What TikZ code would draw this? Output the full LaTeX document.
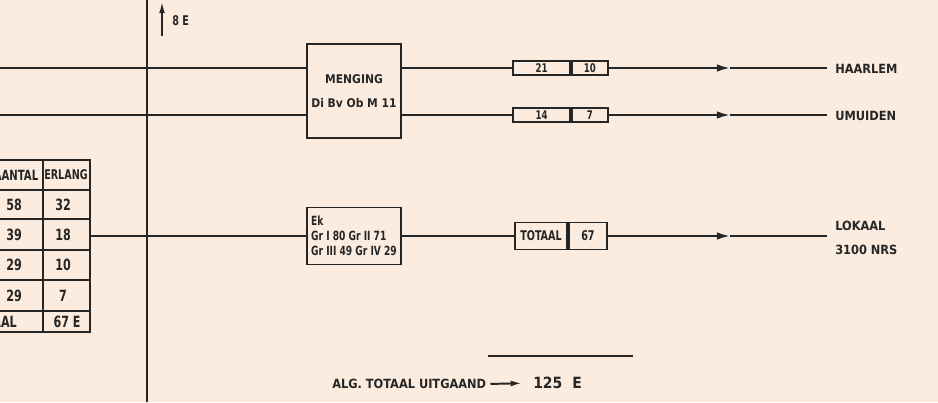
\documentclass[tikz,border=0pt]{standalone}
\usepackage{fontspec}
\setmainfont{DejaVu Sans Condensed}
\newfontfamily\narrowfont{DejaVu Sans Condensed}[FakeStretch=0.8]
\usetikzlibrary{arrows.meta}

\begin{document}
\begin{tikzpicture}[
  x=0.25mm,y=-0.25mm,
  wire/.style={draw=inkCol,line width=1.4pt},
  flow/.style={wire,-{Latex[length=3.3mm,width=1.9mm]}},
  blockbox/.style={rectangle,draw=inkCol,line width=1.4pt,inner sep=0pt,
                   font=\bfseries\fontsize{8.5}{10}\selectfont,text=inkCol,align=center},
  slotbox/.style={rectangle,draw=inkCol,line width=1.4pt,inner sep=0pt,
                  font=\narrowfont\bfseries\fontsize{8.5}{10}\selectfont,text=inkCol},
  tabline/.style={draw=inkCol,line width=1.4pt},
  lbl/.style={font=\bfseries\small,text=inkCol,inner sep=0pt},
  cell/.style={font=\narrowfont\bfseries\fontsize{11}{12}\selectfont,text=inkCol,inner sep=0pt},
]
\definecolor{inkCol}{HTML}{262626}
\definecolor{paperCol}{HTML}{FBECDF}

\useasboundingbox (0,0) rectangle (938,402);
\fill[paperCol] (0,0) rectangle (938,402);
\clip (0,0) rectangle (938,402);

% main vertical bus with the incoming 8 E
\coordinate (vTop) at (147,0);
\coordinate (vBot) at (147,402);
\draw[wire] (vTop)--(vBot);
\coordinate (inTail) at (162,36);
\coordinate (inTip) at (162,1);
\draw[wire,-{Latex[length=3mm,width=1.4mm]}] (inTail)--(inTip);
\node[lbl,font=\narrowfont\bfseries\fontsize{9.5}{10}\selectfont,anchor=west] (inLbl)
  at (172,21) {8 E};

% mixed bundle towards Haarlem and IJmuiden
\node[blockbox,minimum width=23.5mm,minimum height=23.5mm] (mengBox) at (354,91)
  {MENGING\\[2.5mm]Di Bv Ob M 11};
\coordinate (inH) at (0,68);
\coordinate (inU) at (0,115);

\node[slotbox,minimum width=14.25mm,minimum height=3.4mm] (slotHa) at (541.5,68) {21};
\node[slotbox,minimum width=9mm,minimum height=3.4mm,anchor=west] (slotHb)
  at (slotHa.east) {10};
\node[slotbox,minimum width=14.25mm,minimum height=3.7mm] (slotUa) at (541.5,115) {14};
\node[slotbox,minimum width=9mm,minimum height=3.7mm,anchor=west] (slotUb)
  at (slotUa.east) {7};

\coordinate (tipH) at (730,68);
\coordinate (endH) at (827,68);
\coordinate (tipU) at (730,115);
\coordinate (endU) at (827,115);
\node[lbl,anchor=west] (haarlem) at (835,69) {HAARLEM};
\node[lbl,anchor=west] (umuiden) at (835,116) {UMUIDEN};

\draw[wire] (inH)--(mengBox.west|-inH) (mengBox.east|-slotHa)--(slotHa.west);
\draw[wire] (inU)--(mengBox.west|-inU) (mengBox.east|-slotUa)--(slotUa.west);
\draw[flow] (slotHb.east)--(tipH);
\draw[wire] (tipH)--(endH);
\draw[flow] (slotUb.east)--(tipU);
\draw[wire] (tipU)--(endU);

% local exchange line
\node[blockbox,minimum width=23.5mm,minimum height=14.25mm,align=left,
  font=\narrowfont\bfseries\fontsize{9}{10.5}\selectfont] (ekBox)
  at (354,236) {Ek\\Gr I 80 Gr II 71\\Gr III 49 Gr IV 29};
\node[slotbox,minimum width=13mm,minimum height=6.75mm,
  font=\narrowfont\bfseries\fontsize{9.5}{10}\selectfont] (slotTa) at (541,236) {TOTAAL};
\node[slotbox,minimum width=9.5mm,minimum height=6.75mm,anchor=west,
  font=\narrowfont\bfseries\fontsize{9.5}{10}\selectfont] (slotTb) at (slotTa.east) {67};
\coordinate (tabOut) at (90,236);
\coordinate (tipL) at (730,236);
\coordinate (endL) at (827,236);
\node[lbl,anchor=west,align=left] (lokaal) at (835,238) {LOKAAL\\[2mm]3100 NRS};

\draw[wire] (tabOut)--(ekBox.west) (ekBox.east)--(slotTa.west);
\draw[flow] (slotTb.east)--(tipL);
\draw[wire] (tipL)--(endL);

% group table (left edge cut off)
\draw[tabline] (-10,160)--(90,160)--(90,332)--(-10,332);
\draw[tabline] (43,160)--(43,332);
\foreach \y in {190,219,250,280,311}
  \draw[tabline] (-10,\y)--(90,\y);
\node[cell,font=\narrowfont\bfseries\fontsize{10}{11}\selectfont,anchor=east] (hdA)
  at (38.5,175) {AANTAL};
\node[cell,font=\narrowfont\bfseries\fontsize{9.5}{10}\selectfont] (hdB)
  at (66,175) {ERLANG};
\foreach \y/\a/\b in {204.5/58/32,234.5/39/18,265/29/10,295.5/29/7}{
  \node[cell,anchor=west] at (6,\y) {\a};
  \node[cell] at (63,\y) {\b};
}
\node[cell,anchor=east] (totA) at (17,321.5) {TOTAAL};
\node[cell] (totB) at (67,321.5) {67 E};

% general total
\coordinate (sumL) at (488,356);
\coordinate (sumR) at (633,356);
\draw[wire,line width=1.6pt] (sumL)--(sumR);
\node[lbl,anchor=west] (algTxt) at (332,384) {ALG. TOTAAL UITGAAND};
\node[lbl,font=\bfseries\fontsize{11}{12}\selectfont,anchor=west] (sumTxt) at (533,383)
  {125\hspace{2.5mm}E};
\draw[wire,-{Latex[length=2.8mm,width=1.5mm]},shorten <=1mm,shorten >=2.8mm]
  (algTxt.east)--(sumTxt.west);
\end{tikzpicture}
\end{document}
